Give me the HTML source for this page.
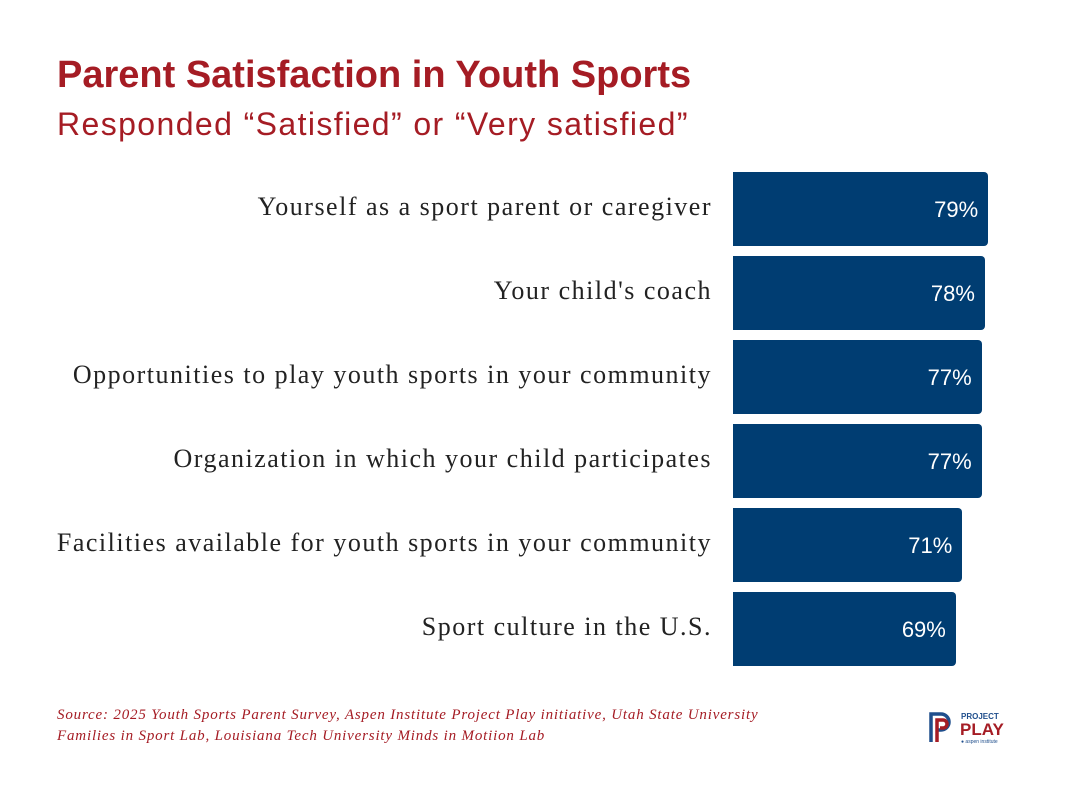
<!DOCTYPE html>
<html><head><meta charset="utf-8"><style>
body{margin:0;width:1080px;height:801px;background:#fff;overflow:hidden;position:relative;font-family:"Liberation Sans",sans-serif}
#title{position:absolute;left:57px;top:54px;font-size:38px;font-weight:bold;color:#a51c24;margin:0}
#sub{position:absolute;left:57px;top:106px;font-size:32px;letter-spacing:1.4px;color:#a51c24}
.lbl{position:absolute;right:368px;font-family:"Liberation Serif",serif;font-size:26px;color:#222;white-space:nowrap;letter-spacing:1.5px}
.bar{position:absolute;left:733px;background:#003d72;border-radius:0 4px 4px 0}
.val{position:absolute;font-size:22px;color:#fff;text-align:right}
#src{position:absolute;left:57px;top:705px;font-family:"Liberation Serif",serif;font-style:italic;font-size:15px;letter-spacing:0.82px;color:#a51c24;line-height:21px;white-space:nowrap}
</style></head><body>
<h1 id="title">Parent Satisfaction in Youth Sports</h1>
<div id="sub">Responded “Satisfied” or “Very satisfied”</div>
<div id="chart"></div>
<div id="src">Source: 2025 Youth Sports Parent Survey, Aspen Institute Project Play initiative, Utah State University<br>Families in Sport Lab, Louisiana Tech University Minds in Motiion Lab</div>
<svg style="position:absolute;left:928px;top:710px" width="90" height="36" viewBox="0 0 90 36">
<path d="M3 32V4h10a8 8 0 0 1 0 16H8" fill="none" stroke="#1f4e8c" stroke-width="3.5"/>
<path d="M9 32V10h6a4 4 0 0 1 0 8h-3" fill="none" stroke="#a51c24" stroke-width="3.5"/>
<text x="33" y="9" font-size="8" font-weight="bold" fill="#1f4e8c" font-family="Liberation Sans">PROJECT</text>
<text x="32" y="25" font-size="17" font-weight="bold" fill="#a51c24" font-family="Liberation Sans">PLAY</text>
<text x="33" y="33" font-size="5" fill="#1f4e8c" font-family="Liberation Sans">● aspen institute</text>
</svg>
<script>
const categories=["Yourself as a sport parent or caregiver","Your child's coach","Opportunities to play youth sports in your community","Organization in which your child participates","Facilities available for youth sports in your community","Sport culture in the U.S."];
const values=[79,78,77,77,71,69];
const valueLabels=["79%","78%","77%","77%","71%","69%"];
const x0=733,pxPer=3.23,y0=172,step=84,h=74;
const xs=v=>v*pxPer;
const ys=i=>y0+i*step;
const root=document.getElementById('chart');
categories.forEach((c,i)=>{
 const l=document.createElement('div');l.className='lbl';l.textContent=c;
 
 
 l.style.top=(ys(i)+20)+'px';root.appendChild(l);
 const b=document.createElement('div');b.className='bar';
 
 
 b.style.top=ys(i)+'px';b.style.height=h+'px';b.style.width=xs(values[i])+'px';root.appendChild(b);
 const v=document.createElement('div');v.className='val';v.textContent=valueLabels[i];
 
 
 v.style.left=(x0+xs(values[i])-110)+'px';v.style.width='100px';v.style.top=(ys(i)+25)+'px';root.appendChild(v);
});
</script>
</body></html>
